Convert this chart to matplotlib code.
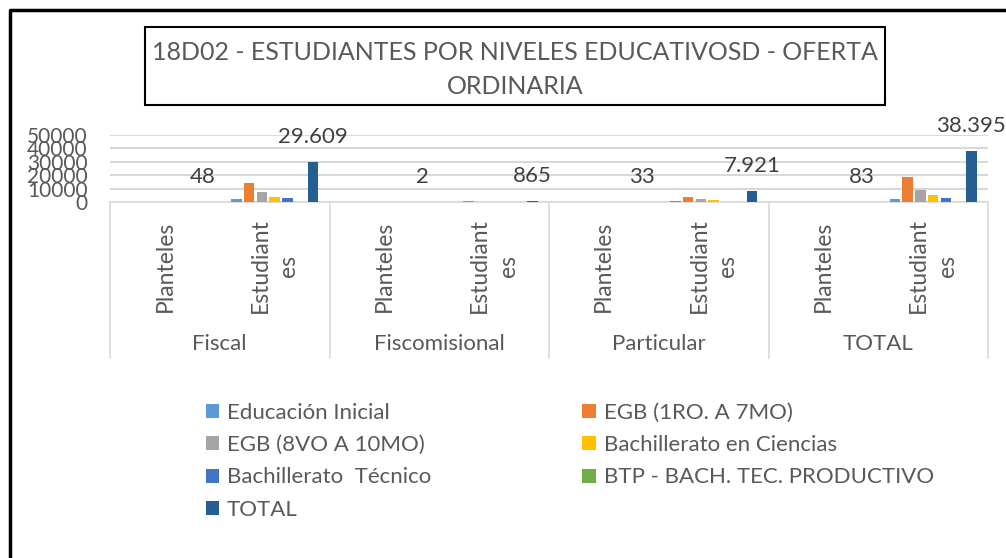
import matplotlib.pyplot as plt
import matplotlib.transforms as mtransforms
from matplotlib.lines import Line2D
from matplotlib.patches import Rectangle

plt.rcParams['font.family'] = ['Lato', 'DejaVu Sans']

groups = ['Fiscal', 'Fiscomisional', 'Particular', 'TOTAL']
subcats = ['Planteles', 'Estudiant\nes']

series = ['Educación Inicial', 'EGB (1RO. A 7MO)', 'EGB (8VO A 10MO)',
          'Bachillerato en Ciencias', 'Bachillerato  Técnico',
          'BTP - BACH. TEC. PRODUCTIVO', 'TOTAL']
colors = ['#5B9BD5', '#ED7D31', '#A5A5A5', '#FFC000', '#4472C4', '#70AD47', '#255E91']

# values per series, order: Fiscal-Plant, Fiscal-Est, Fiscom-Plant, Fiscom-Est,
# Partic-Plant, Partic-Est, TOTAL-Plant, TOTAL-Est
ed_inicial = [28, 1900, 1, 80, 20, 600, 49, 2580]
egb_1_7 = [45, 14200, 2, 400, 30, 3700, 77, 18300]
egb_8_10 = [30, 7100, 1, 220, 15, 1900, 46, 9220]
bach_ciencias = [12, 3700, 1, 165, 8, 1500, 21, 5365]
bach_tecnico = [8, 2709, 0, 0, 2, 221, 10, 2930]
btp = [0, 0, 0, 0, 0, 0, 0, 0]
total = [48, 29609, 2, 865, 33, 7921, 83, 38395]
values = [ed_inicial, egb_1_7, egb_8_10, bach_ciencias, bach_tecnico, btp, total]

W, H = 1006, 558
fig = plt.figure(figsize=(W / 100, H / 100), dpi=100)
ax = fig.add_axes([110 / W, 1 - 202 / H, 878 / W, 67 / H])

gray = '#595959'
step = 0.116
width = 0.096
xs = list(range(len(total)))
for j, (name, vals) in enumerate(zip(series, values)):
    pos = [x + (j - 3) * step for x in xs]
    ax.bar(pos, vals, width=width, color=colors[j], label=name, zorder=3)
    if name == 'TOTAL':
        for p, v in zip(pos, vals):
            txt = '{:,}'.format(v).replace(',', '.')
            ax.annotate(txt, (p, v), xytext=(0, 18), textcoords='offset points',
                        ha='center', va='center', fontsize=16, color='#404040',
                        annotation_clip=False)

ax.set_xlim(-0.5, 7.5)
ax.set_ylim(0, 50000)
ax.set_yticks([0, 10000, 20000, 30000, 40000, 50000])
ax.set_yticklabels(['0', '10000', '20000', '30000', '40000', '50000'])
ax.tick_params(axis='y', length=0, pad=16, labelsize=15, labelcolor=gray)
ax.set_xticks([])
ax.grid(axis='y', color='#D9D9D9', linewidth=1.5, zorder=0)
for s in ['top', 'right', 'left']:
    ax.spines[s].set_visible(False)
ax.spines['bottom'].set_color('#D9D9D9')
ax.spines['bottom'].set_linewidth(1.2)

# multi-level category axis
tr = mtransforms.blended_transform_factory(ax.transData, fig.transFigure)
for b in [-0.5, 1.5, 3.5, 5.5, 7.5]:
    fig.add_artist(Line2D([b, b], [1 - 202 / H, 1 - 358 / H], transform=tr,
                          color='#D9D9D9', linewidth=1.2))
for i, x in enumerate(xs):
    ax.text(x, 1 - 266 / H, subcats[i % 2], transform=tr, rotation=90,
            ha='center', va='center', multialignment='center',
            fontsize=16.5, color=gray, linespacing=1.45)
for g, name in enumerate(groups):
    ax.text(2 * g + 0.5, 1 - 344 / H, name, transform=tr, ha='center',
            va='center', fontsize=16, color=gray)

# title box
fig.add_artist(Rectangle((145 / W, 1 - 105 / H), 740 / W, 78 / H,
                         transform=fig.transFigure, fill=False,
                         edgecolor='black', linewidth=1.5))
fig.text(515 / W, 1 - 52 / H, '18D02 - ESTUDIANTES POR NIVELES EDUCATIVOSD - OFERTA',
         ha='center', va='center', fontsize=18, color=gray)
fig.text(515 / W, 1 - 87 / H, 'ORDINARIA', ha='center', va='center',
         fontsize=18, color=gray)

# outer border
fig.add_artist(Line2D([10 / W, 10 / W, 1], [0, 1 - 10 / H, 1 - 10 / H],
                      transform=fig.transFigure, color='black', linewidth=2.5))

# legend, row-wise order like the reference
handles, labels = ax.get_legend_handles_labels()
order = [0, 2, 4, 6, 1, 3, 5]
fig.legend([handles[k] for k in order], [labels[k] for k in order],
           loc='upper left', bbox_to_anchor=(206 / W, 1 - 403 / H), ncol=2,
           frameon=False, fontsize=16, labelcolor=gray, handlelength=0.6,
           handleheight=0.6, handletextpad=0.35, columnspacing=6.8,
           labelspacing=0.55, borderpad=0, borderaxespad=0)

fig.savefig('out.png', dpi=100)
